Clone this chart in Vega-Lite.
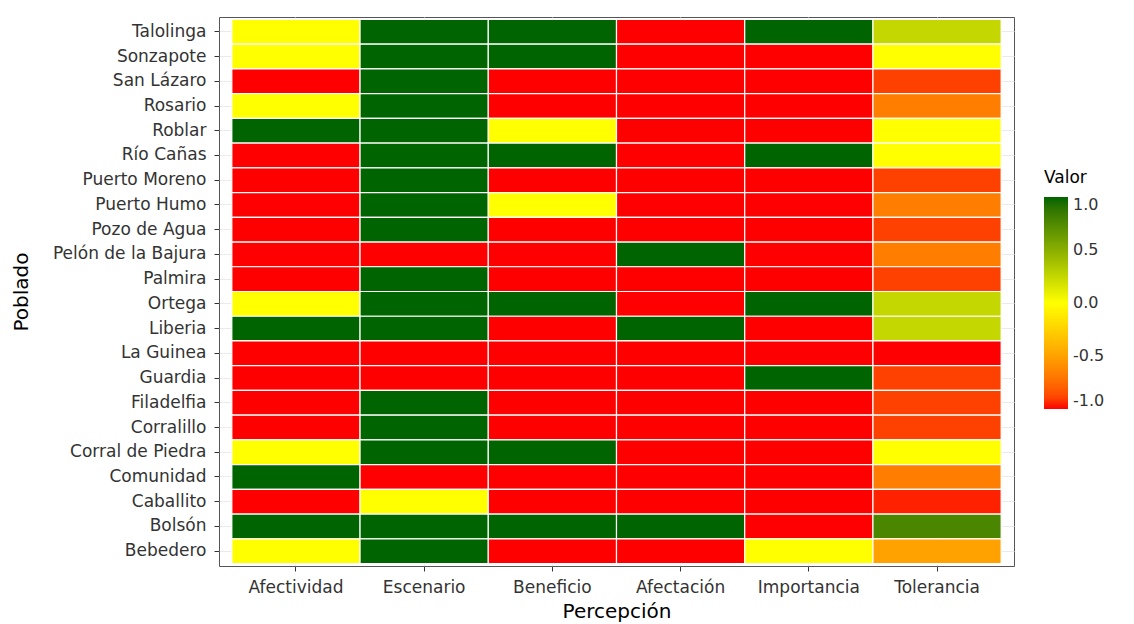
{
  "$schema": "https://vega.github.io/schema/vega-lite/v6.json",
  "width": 795,
  "height": 549,
  "autosize": {"type": "none"},
  "padding": {"left": 219, "top": 17, "right": 120, "bottom": 58},
  "background": "white",
  "config": {
    "view": {"stroke": "#555555", "strokeWidth": 1},
    "font": "DejaVu Sans"
  },
  "data": {
    "values": [
      {"p": "Talolinga", "c": "Afectividad", "v": 0}, {"p": "Talolinga", "c": "Escenario", "v": 1}, {"p": "Talolinga", "c": "Beneficio", "v": 1}, {"p": "Talolinga", "c": "Afectación", "v": -1}, {"p": "Talolinga", "c": "Importancia", "v": 1}, {"p": "Talolinga", "c": "Tolerancia", "v": 0.25},
      {"p": "Sonzapote", "c": "Afectividad", "v": 0}, {"p": "Sonzapote", "c": "Escenario", "v": 1}, {"p": "Sonzapote", "c": "Beneficio", "v": 1}, {"p": "Sonzapote", "c": "Afectación", "v": -1}, {"p": "Sonzapote", "c": "Importancia", "v": -1}, {"p": "Sonzapote", "c": "Tolerancia", "v": 0},
      {"p": "San Lázaro", "c": "Afectividad", "v": -1}, {"p": "San Lázaro", "c": "Escenario", "v": 1}, {"p": "San Lázaro", "c": "Beneficio", "v": -1}, {"p": "San Lázaro", "c": "Afectación", "v": -1}, {"p": "San Lázaro", "c": "Importancia", "v": -1}, {"p": "San Lázaro", "c": "Tolerancia", "v": -0.9},
      {"p": "Rosario", "c": "Afectividad", "v": 0}, {"p": "Rosario", "c": "Escenario", "v": 1}, {"p": "Rosario", "c": "Beneficio", "v": -1}, {"p": "Rosario", "c": "Afectación", "v": -1}, {"p": "Rosario", "c": "Importancia", "v": -1}, {"p": "Rosario", "c": "Tolerancia", "v": -0.67},
      {"p": "Roblar", "c": "Afectividad", "v": 1}, {"p": "Roblar", "c": "Escenario", "v": 1}, {"p": "Roblar", "c": "Beneficio", "v": 0}, {"p": "Roblar", "c": "Afectación", "v": -1}, {"p": "Roblar", "c": "Importancia", "v": -1}, {"p": "Roblar", "c": "Tolerancia", "v": 0},
      {"p": "Río Cañas", "c": "Afectividad", "v": -1}, {"p": "Río Cañas", "c": "Escenario", "v": 1}, {"p": "Río Cañas", "c": "Beneficio", "v": 1}, {"p": "Río Cañas", "c": "Afectación", "v": -1}, {"p": "Río Cañas", "c": "Importancia", "v": 1}, {"p": "Río Cañas", "c": "Tolerancia", "v": 0},
      {"p": "Puerto Moreno", "c": "Afectividad", "v": -1}, {"p": "Puerto Moreno", "c": "Escenario", "v": 1}, {"p": "Puerto Moreno", "c": "Beneficio", "v": -1}, {"p": "Puerto Moreno", "c": "Afectación", "v": -1}, {"p": "Puerto Moreno", "c": "Importancia", "v": -1}, {"p": "Puerto Moreno", "c": "Tolerancia", "v": -0.9},
      {"p": "Puerto Humo", "c": "Afectividad", "v": -1}, {"p": "Puerto Humo", "c": "Escenario", "v": 1}, {"p": "Puerto Humo", "c": "Beneficio", "v": 0}, {"p": "Puerto Humo", "c": "Afectación", "v": -1}, {"p": "Puerto Humo", "c": "Importancia", "v": -1}, {"p": "Puerto Humo", "c": "Tolerancia", "v": -0.67},
      {"p": "Pozo de Agua", "c": "Afectividad", "v": -1}, {"p": "Pozo de Agua", "c": "Escenario", "v": 1}, {"p": "Pozo de Agua", "c": "Beneficio", "v": -1}, {"p": "Pozo de Agua", "c": "Afectación", "v": -1}, {"p": "Pozo de Agua", "c": "Importancia", "v": -1}, {"p": "Pozo de Agua", "c": "Tolerancia", "v": -0.9},
      {"p": "Pelón de la Bajura", "c": "Afectividad", "v": -1}, {"p": "Pelón de la Bajura", "c": "Escenario", "v": -1}, {"p": "Pelón de la Bajura", "c": "Beneficio", "v": -1}, {"p": "Pelón de la Bajura", "c": "Afectación", "v": 1}, {"p": "Pelón de la Bajura", "c": "Importancia", "v": -1}, {"p": "Pelón de la Bajura", "c": "Tolerancia", "v": -0.67},
      {"p": "Palmira", "c": "Afectividad", "v": -1}, {"p": "Palmira", "c": "Escenario", "v": 1}, {"p": "Palmira", "c": "Beneficio", "v": -1}, {"p": "Palmira", "c": "Afectación", "v": -1}, {"p": "Palmira", "c": "Importancia", "v": -1}, {"p": "Palmira", "c": "Tolerancia", "v": -0.9},
      {"p": "Ortega", "c": "Afectividad", "v": 0}, {"p": "Ortega", "c": "Escenario", "v": 1}, {"p": "Ortega", "c": "Beneficio", "v": 1}, {"p": "Ortega", "c": "Afectación", "v": -1}, {"p": "Ortega", "c": "Importancia", "v": 1}, {"p": "Ortega", "c": "Tolerancia", "v": 0.25},
      {"p": "Liberia", "c": "Afectividad", "v": 1}, {"p": "Liberia", "c": "Escenario", "v": 1}, {"p": "Liberia", "c": "Beneficio", "v": -1}, {"p": "Liberia", "c": "Afectación", "v": 1}, {"p": "Liberia", "c": "Importancia", "v": -1}, {"p": "Liberia", "c": "Tolerancia", "v": 0.25},
      {"p": "La Guinea", "c": "Afectividad", "v": -1}, {"p": "La Guinea", "c": "Escenario", "v": -1}, {"p": "La Guinea", "c": "Beneficio", "v": -1}, {"p": "La Guinea", "c": "Afectación", "v": -1}, {"p": "La Guinea", "c": "Importancia", "v": -1}, {"p": "La Guinea", "c": "Tolerancia", "v": -1},
      {"p": "Guardia", "c": "Afectividad", "v": -1}, {"p": "Guardia", "c": "Escenario", "v": -1}, {"p": "Guardia", "c": "Beneficio", "v": -1}, {"p": "Guardia", "c": "Afectación", "v": -1}, {"p": "Guardia", "c": "Importancia", "v": 1}, {"p": "Guardia", "c": "Tolerancia", "v": -0.9},
      {"p": "Filadelfia", "c": "Afectividad", "v": -1}, {"p": "Filadelfia", "c": "Escenario", "v": 1}, {"p": "Filadelfia", "c": "Beneficio", "v": -1}, {"p": "Filadelfia", "c": "Afectación", "v": -1}, {"p": "Filadelfia", "c": "Importancia", "v": -1}, {"p": "Filadelfia", "c": "Tolerancia", "v": -0.9},
      {"p": "Corralillo", "c": "Afectividad", "v": -1}, {"p": "Corralillo", "c": "Escenario", "v": 1}, {"p": "Corralillo", "c": "Beneficio", "v": -1}, {"p": "Corralillo", "c": "Afectación", "v": -1}, {"p": "Corralillo", "c": "Importancia", "v": -1}, {"p": "Corralillo", "c": "Tolerancia", "v": -0.9},
      {"p": "Corral de Piedra", "c": "Afectividad", "v": 0}, {"p": "Corral de Piedra", "c": "Escenario", "v": 1}, {"p": "Corral de Piedra", "c": "Beneficio", "v": 1}, {"p": "Corral de Piedra", "c": "Afectación", "v": -1}, {"p": "Corral de Piedra", "c": "Importancia", "v": -1}, {"p": "Corral de Piedra", "c": "Tolerancia", "v": 0},
      {"p": "Comunidad", "c": "Afectividad", "v": 1}, {"p": "Comunidad", "c": "Escenario", "v": -1}, {"p": "Comunidad", "c": "Beneficio", "v": -1}, {"p": "Comunidad", "c": "Afectación", "v": -1}, {"p": "Comunidad", "c": "Importancia", "v": -1}, {"p": "Comunidad", "c": "Tolerancia", "v": -0.67},
      {"p": "Caballito", "c": "Afectividad", "v": -1}, {"p": "Caballito", "c": "Escenario", "v": 0}, {"p": "Caballito", "c": "Beneficio", "v": -1}, {"p": "Caballito", "c": "Afectación", "v": -1}, {"p": "Caballito", "c": "Importancia", "v": -1}, {"p": "Caballito", "c": "Tolerancia", "v": -0.97},
      {"p": "Bolsón", "c": "Afectividad", "v": 1}, {"p": "Bolsón", "c": "Escenario", "v": 1}, {"p": "Bolsón", "c": "Beneficio", "v": 1}, {"p": "Bolsón", "c": "Afectación", "v": 1}, {"p": "Bolsón", "c": "Importancia", "v": -1}, {"p": "Bolsón", "c": "Tolerancia", "v": 0.77},
      {"p": "Bebedero", "c": "Afectividad", "v": 0}, {"p": "Bebedero", "c": "Escenario", "v": 1}, {"p": "Bebedero", "c": "Beneficio", "v": -1}, {"p": "Bebedero", "c": "Afectación", "v": -1}, {"p": "Bebedero", "c": "Importancia", "v": 0}, {"p": "Bebedero", "c": "Tolerancia", "v": -0.5}
    ]
  },
  "mark": {"type": "rect", "stroke": "white", "strokeWidth": 1.2},
  "encoding": {
    "x": {
      "field": "c",
      "type": "nominal",
      "title": "Percepción",
      "sort": ["Afectividad", "Escenario", "Beneficio", "Afectación", "Importancia", "Tolerancia"],
      "scale": {"paddingInner": 0, "paddingOuter": 0.1},
      "axis": {
        "zindex": 0,
        "labelAngle": 0,
        "labelFont": "DejaVu Sans",
        "labelFontSize": 17,
        "labelColor": "#333333",
        "labelPadding": 8,
        "tickSize": 5,
        "tickColor": "#333333",
        "domain": false,
        "grid": true,
        "gridColor": "#EBEBEB",
        "bandPosition": 0.5,
        "titleFont": "DejaVu Sans",
        "titleFontSize": 20,
        "titleFontWeight": "normal",
        "titleColor": "#000000",
        "titlePadding": 6
      }
    },
    "y": {
      "field": "p",
      "type": "nominal",
      "title": "Poblado",
      "sort": ["Talolinga", "Sonzapote", "San Lázaro", "Rosario", "Roblar", "Río Cañas", "Puerto Moreno", "Puerto Humo", "Pozo de Agua", "Pelón de la Bajura", "Palmira", "Ortega", "Liberia", "La Guinea", "Guardia", "Filadelfia", "Corralillo", "Corral de Piedra", "Comunidad", "Caballito", "Bolsón", "Bebedero"],
      "scale": {"paddingInner": 0, "paddingOuter": 0.1},
      "axis": {
        "zindex": 0,
        "labelFont": "DejaVu Sans",
        "labelFontSize": 17,
        "labelColor": "#333333",
        "labelPadding": 8,
        "tickSize": 5,
        "tickColor": "#333333",
        "domain": false,
        "grid": true,
        "gridColor": "#EBEBEB",
        "bandPosition": 0.5,
        "titleFont": "DejaVu Sans",
        "titleFontSize": 20,
        "titleFontWeight": "normal",
        "titleColor": "#000000",
        "titlePadding": 21
      }
    },
    "fill": {
      "field": "v",
      "type": "quantitative",
      "title": "Valor",
      "scale": {
        "domain": [-1, 0, 1],
        "range": ["#FF0000", "#FFFF00", "#006400"],
        "interpolate": "lab"
      },
      "legend": {
        "orient": "none",
        "legendX": 825,
        "legendY": 153,
        "values": [-1, -0.5, 0, 0.5, 1],
        "labelExpr": "datum.value < 0 ? '-' + format(-datum.value, '.1f') : format(datum.value, '.1f')",
        "gradientLength": 212,
        "gradientThickness": 24,
        "gradientStrokeWidth": 0,
        "titleFont": "DejaVu Sans",
        "titleFontSize": 17,
        "titleFontWeight": "normal",
        "titleColor": "#000000",
        "titlePadding": 10,
        "labelFont": "DejaVu Sans",
        "labelFontSize": 16,
        "labelColor": "#333333",
        "labelOffset": 5
      }
    }
  }
}
